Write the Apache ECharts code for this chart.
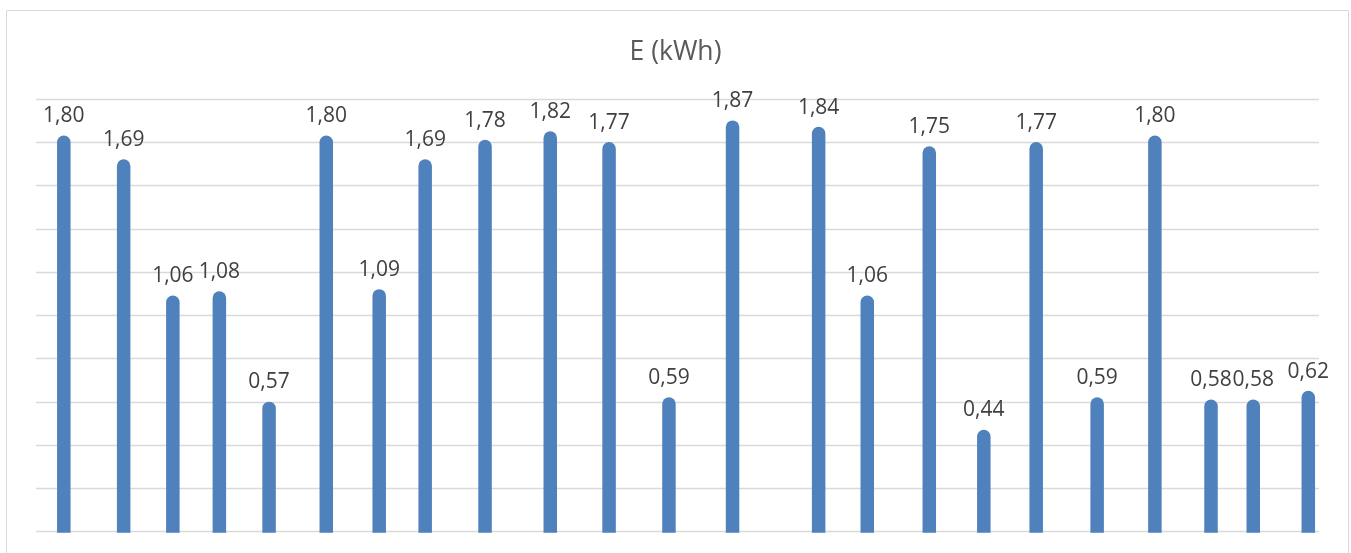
<!DOCTYPE html>
<html>
<head>
<meta charset="utf-8">
<script src="https://cdn.jsdelivr.net/npm/echarts@6/dist/echarts.min.js"></script>
<style>
html,body{margin:0;padding:0;background:#fff;}
#chart{width:1351px;height:553px;}
</style>
</head>
<body>
<div id="chart"></div>
<script>
// Position of each measurement along the (unlabelled) time axis, in days
var positions = [0.52, 1.64, 2.56, 3.43, 4.36, 5.43, 6.42, 7.28, 8.40, 9.62, 10.72, 11.84, 13.03, 14.64, 15.55, 16.71, 17.73, 18.71, 19.85, 20.93, 21.98, 22.77, 23.80];
// Energy values E (kWh)
var energy = [1.80, 1.69, 1.06, 1.08, 0.57, 1.80, 1.09, 1.69, 1.78, 1.82, 1.77, 0.59, 1.87, 1.84, 1.06, 1.75, 0.44, 1.77, 0.59, 1.80, 0.58, 0.58, 0.62];
var titleText = 'E (kWh)';

var data = positions.map(function (p, i) { return [p, energy[i]]; });
function fmt(v) { return v.toFixed(2).replace('.', ','); }

var chart = echarts.init(document.getElementById('chart'), null, {renderer: 'canvas'});
chart.setOption({
  animation: false,
  backgroundColor: '#ffffff',
  title: {
    text: titleText,
    left: 'center',
    top: 34,
    textStyle: {fontFamily: 'Open Sans', fontSize: 26.5, fontWeight: 'normal', color: '#595959'}
  },
  graphic: [{
    type: 'rect',
    shape: {x: 6.5, y: 10.5, width: 1342, height: 600},
    style: {fill: 'none', stroke: '#d9d9d9', lineWidth: 1},
    silent: true,
    z: -1
  }],
  grid: {left: 36, right: 32, top: 99, bottom: 21.3},
  xAxis: {
    type: 'value', min: 0, max: 24,
    axisLine: {show: false}, axisTick: {show: false}, axisLabel: {show: false}, splitLine: {show: false}
  },
  yAxis: {
    type: 'value', min: 0, max: 2, interval: 0.2,
    axisLine: {show: false}, axisTick: {show: false}, axisLabel: {show: false},
    splitLine: {lineStyle: {color: '#d9d9d9', width: 1.3}}
  },
  series: [{
    type: 'custom',
    data: data,
    clip: false,
    renderItem: function (params, api) {
      var x = api.value(0), v = api.value(1);
      var top = api.coord([x, v]);
      var base = api.coord([x, 0]);
      var w = 13.5, r = w / 2;
      return {
        type: 'group',
        children: [{
          type: 'rect',
          shape: {x: top[0] - r, y: top[1] - r, width: w, height: base[1] - top[1] + r + 1, r: [r, r, 0, 0]},
          style: {fill: '#4F81BD'}
        }, {
          type: 'text',
          x: top[0],
          y: top[1] - 26,
          style: {
            text: fmt(v), fill: '#404040', fontFamily: 'Open Sans', fontSize: 21,
            align: 'center', verticalAlign: 'middle'
          }
        }]
      };
    }
  }]
});
</script>
</body>
</html>
